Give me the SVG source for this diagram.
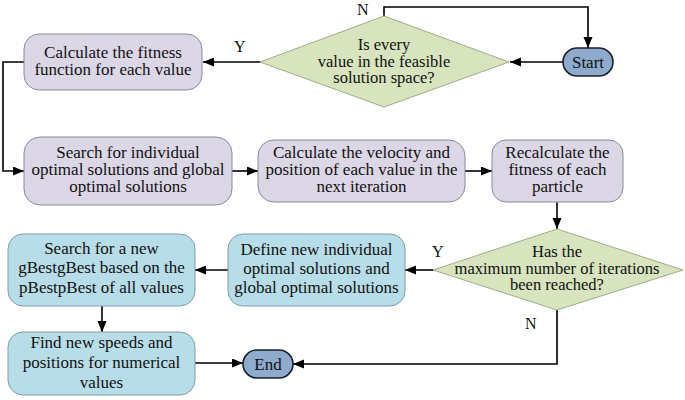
<svg xmlns="http://www.w3.org/2000/svg" width="685" height="400" viewBox="0 0 685 400">
<defs>
<marker id="arr" markerUnits="userSpaceOnUse" markerWidth="12" markerHeight="10" refX="11" refY="4.5" orient="auto">
<path d="M0,0 L11,4.5 L0,9 z" fill="#000"/>
</marker>
</defs>
<style>
text{font-family:Liberation Serif, Tinos, DejaVu Serif, Times New Roman, Times, serif;font-size:17px;fill:#111;text-anchor:middle}
.s{font-size:16.5px}
.p{fill:#dcd7e6;stroke:#8c8a98;stroke-width:1}
.b{fill:#b7dde8;stroke:#7f9ea8;stroke-width:1}
.d{fill:#d7e4bd;stroke:#a0ad88;stroke-width:1}
.t{fill:#8eaacc;stroke:#1a1f2a;stroke-width:1.6}
.c{fill:none;stroke:#000;stroke-width:1.6;marker-end:url(#arr)}
.l{text-anchor:start;font-size:16px}
</style>
<rect width="685" height="400" fill="#fff"/>
<g id="connectors">
<path class="c" d="M563,62 L510,62"/>
<path class="c" d="M260,62 L203,62"/>
<path class="c" d="M384,16 L384,7 L588,7 L588,48"/>
<path class="c" d="M24,62 L3,62 L3,171 L24,171"/>
<path class="c" d="M232,171 L258,171"/>
<path class="c" d="M465,171 L492,171"/>
<path class="c" d="M557,202 L557,229"/>
<path class="c" d="M433,270 L405,270"/>
<path class="c" d="M228,270 L195,270"/>
<path class="c" d="M102,306 L102,332"/>
<path class="c" d="M195,363 L243,363"/>
<path class="c" d="M557,310 L557,364 L293,364"/>
<text class="l" x="357" y="15">N</text>
<text class="l" x="234" y="52">Y</text>
<text class="l" x="432" y="257">Y</text>
<text class="l" x="525" y="329">N</text>
</g>
<g id="start">
<rect class="t" x="563" y="48" width="50" height="28" rx="14"/>
<text x="588" y="68">Start</text>
</g>
<g id="decision1">
<polygon class="d" points="384,16 509,62 384,107 260,62"/>
<text class="s" x="384" y="50">Is every</text>
<text class="s" x="384" y="66.5">value in the feasible</text>
<text class="s" x="384" y="83">solution space?</text>
</g>
<g id="fitness">
<rect class="p" x="24" y="34" width="178" height="56" rx="15"/>
<text x="113" y="58">Calculate the fitness</text>
<text x="113" y="75">function for each value</text>
</g>
<g id="search">
<rect class="p" x="24" y="137" width="208" height="68" rx="16"/>
<text x="128" y="158">Search for individual</text>
<text x="128" y="175">optimal solutions and global</text>
<text x="128" y="192">optimal solutions</text>
</g>
<g id="velocity">
<rect class="p" x="258" y="140" width="207" height="62" rx="16"/>
<text x="361.5" y="158">Calculate the velocity and</text>
<text x="361.5" y="175">position of each value in the</text>
<text x="361.5" y="192">next iteration</text>
</g>
<g id="recalc">
<rect class="p" x="492" y="140" width="131" height="62" rx="14"/>
<text x="557.5" y="158">Recalculate the</text>
<text x="557.5" y="175">fitness of each</text>
<text x="557.5" y="192">particle</text>
</g>
<g id="decision2">
<polygon class="d" points="557,229 683,270 557,310 433,270"/>
<text class="s" x="557" y="257">Has the</text>
<text class="s" x="557" y="273.5">maximum number of iterations</text>
<text class="s" x="557" y="290">been reached?</text>
</g>
<g id="define">
<rect class="b" x="228" y="234" width="177" height="72" rx="15"/>
<text x="316.5" y="255">Define new individual</text>
<text x="316.5" y="274">optimal solutions and</text>
<text x="316.5" y="293">global optimal solutions</text>
</g>
<g id="gbest">
<rect class="b" x="8" y="234" width="187" height="72" rx="15"/>
<text x="101.5" y="254">Search for a new</text>
<text x="101.5" y="273">gBestgBest based on the</text>
<text x="101.5" y="293">pBestpBest of all values</text>
</g>
<g id="speeds">
<rect class="b" x="8" y="332" width="187" height="63" rx="15"/>
<text x="101.5" y="348">Find new speeds and</text>
<text x="101.5" y="368">positions for numerical</text>
<text x="101.5" y="388">values</text>
</g>
<g id="end">
<rect class="t" x="243" y="350" width="50" height="28" rx="14"/>
<text x="268" y="370">End</text>
</g>
</svg>
